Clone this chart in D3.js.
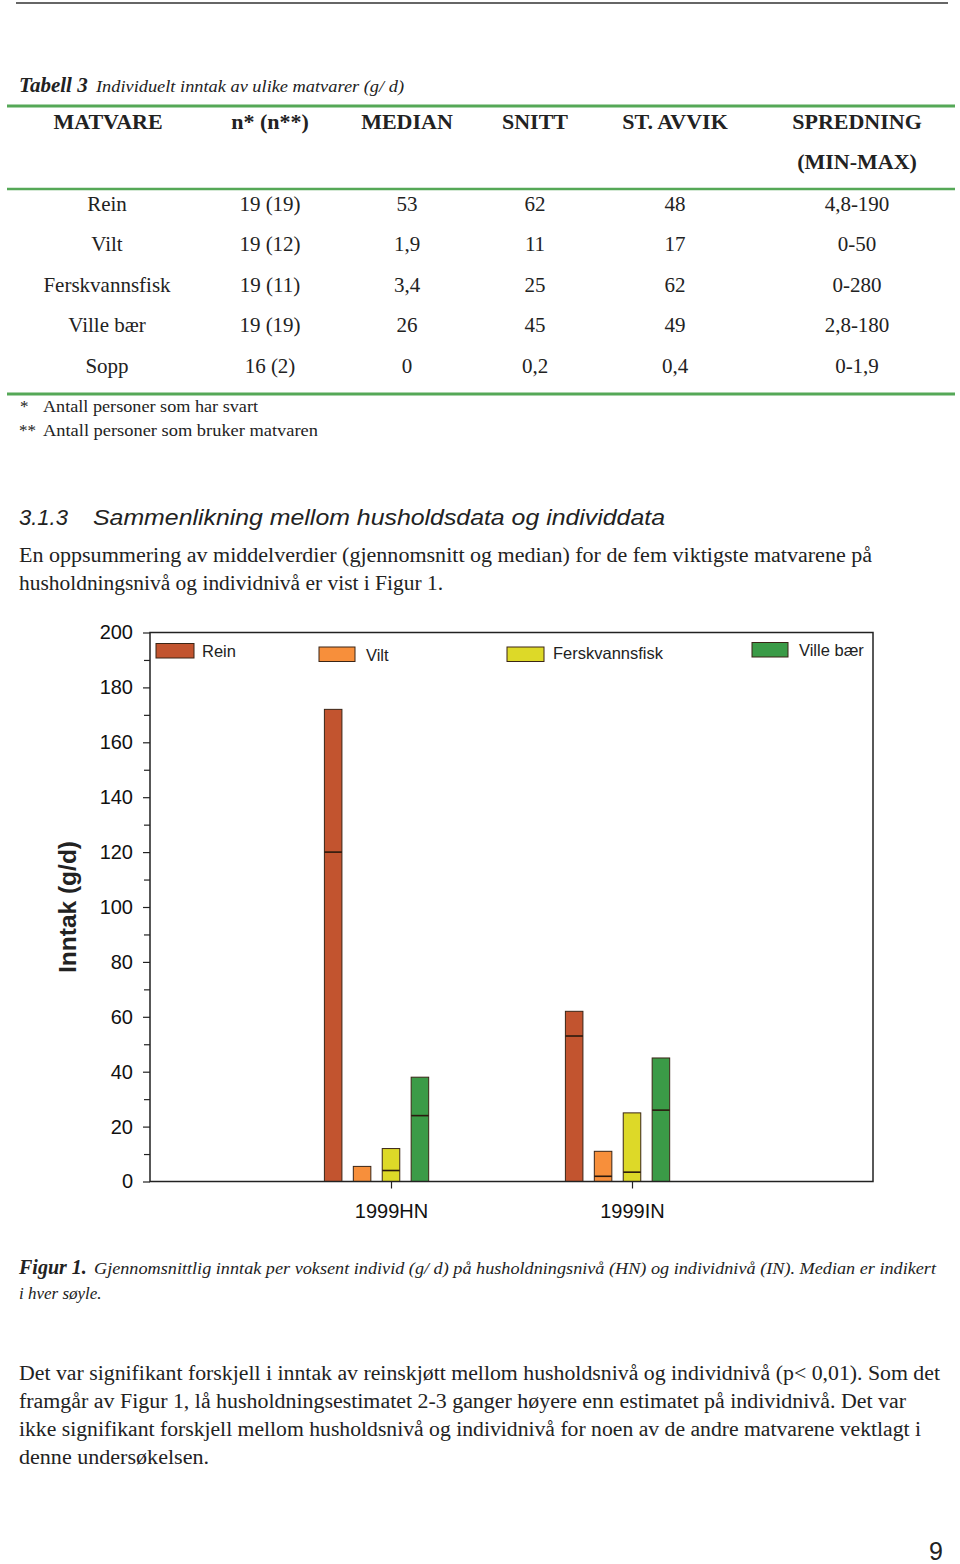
<!DOCTYPE html>
<html>
<head>
<meta charset="utf-8">
<script src="https://cdn.jsdelivr.net/npm/d3@7"></script>
<style>
  html, body { margin: 0; padding: 0; background: #fff; }
  svg { display: block; }
  .serif { font-family: "Liberation Serif", "Times New Roman", serif; fill: #222; }
  .sans { font-family: "Liberation Sans", Arial, sans-serif; fill: #222; }
</style>
</head>
<body>
<svg id="page" width="960" height="1564"></svg>
<script>
// ---------------- data ----------------
const tableHeaders = ["MATVARE", "n* (n**)", "MEDIAN", "SNITT", "ST. AVVIK", "SPREDNING"];
const tableRowLabels = ["Rein", "Vilt", "Ferskvannsfisk", "Ville bær", "Sopp"];
const tableN = ["19 (19)", "19 (12)", "19 (11)", "19 (19)", "16 (2)"];
const tableMedian = ["53", "1,9", "3,4", "26", "0"];
const tableSnitt = ["62", "11", "25", "45", "0,2"];
const tableAvvik = ["48", "17", "62", "49", "0,4"];
const tableSpredning = ["4,8-190", "0-50", "0-280", "2,8-180", "0-1,9"];

const categories = ["1999HN", "1999IN"];
const series = ["Rein", "Vilt", "Ferskvannsfisk", "Ville bær"];
const seriesSlots = ["Rein", "Vilt", "Ferskvannsfisk", "Ville bær", "Sopp"];
const meanHN = [172, 5.5, 12, 38];
const medianHN = [120, 0, 4, 24];
const meanIN = [62, 11, 25, 45];
const medianIN = [53, 1.9, 3.4, 26];
const yTicks = [0, 20, 40, 60, 80, 100, 120, 140, 160, 180, 200];
const yMinorTicks = [10, 30, 50, 70, 90, 110, 130, 150, 170, 190];
const colors = ["#c2542f", "#f78f3b", "#ddd928", "#3b9b47"];

// ---------------- page ----------------
const svg = d3.select("#page");

// top rule
svg.append("line").attr("x1", 16).attr("x2", 948).attr("y1", 3).attr("y2", 3)
  .attr("stroke", "#666").attr("stroke-width", 2);

// table title
svg.append("text").attr("class", "serif").attr("x", 19).attr("y", 92)
  .attr("font-weight", "bold").attr("font-style", "italic").attr("font-size", 21).text("Tabell 3");
svg.append("text").attr("class", "serif").attr("x", 96).attr("y", 92)
  .attr("font-style", "italic").attr("font-size", 17).attr("textLength", 308).attr("lengthAdjust", "spacingAndGlyphs")
  .text("Individuelt inntak av ulike matvarer (g/ d)");

const green = "#55a857";
[[106, 3], [189, 2.5], [394, 3]].forEach(([y, w]) => {
  svg.append("line").attr("x1", 7).attr("x2", 955).attr("y1", y).attr("y2", y)
    .attr("stroke", green).attr("stroke-width", w);
});

const colX = [108, 270, 407, 535, 675, 857];
tableHeaders.forEach((h, i) => {
  svg.append("text").attr("class", "serif").attr("x", colX[i]).attr("y", 129)
    .attr("text-anchor", "middle").attr("font-weight", "bold").attr("font-size", 22).text(h);
});
svg.append("text").attr("class", "serif").attr("x", colX[5]).attr("y", 169)
  .attr("text-anchor", "middle").attr("font-weight", "bold").attr("font-size", 22).text("(MIN-MAX)");

const rowY = [211, 251, 292, 332, 373];
const cols = [tableRowLabels, tableN, tableMedian, tableSnitt, tableAvvik, tableSpredning];
cols.forEach((col, ci) => {
  col.forEach((v, ri) => {
    svg.append("text").attr("class", "serif").attr("x", ci === 0 ? 107 : colX[ci]).attr("y", rowY[ri])
      .attr("text-anchor", "middle").attr("font-size", 21).text(v);
  });
});

svg.append("text").attr("class", "serif").attr("x", 20).attr("y", 412).attr("font-size", 17).text("*");
svg.append("text").attr("class", "serif").attr("x", 43).attr("y", 412).attr("font-size", 17)
  .attr("textLength", 215).attr("lengthAdjust", "spacingAndGlyphs").text("Antall personer som har svart");
svg.append("text").attr("class", "serif").attr("x", 19).attr("y", 436).attr("font-size", 17).text("**");
svg.append("text").attr("class", "serif").attr("x", 43).attr("y", 436).attr("font-size", 17)
  .attr("textLength", 275).attr("lengthAdjust", "spacingAndGlyphs").text("Antall personer som bruker matvaren");

// section heading
svg.append("text").attr("class", "sans").attr("x", 19).attr("y", 525).attr("font-size", 22)
  .attr("font-style", "italic").text("3.1.3");
svg.append("text").attr("class", "sans").attr("x", 93).attr("y", 525).attr("font-size", 22)
  .attr("font-style", "italic").attr("textLength", 572).attr("lengthAdjust", "spacingAndGlyphs")
  .text("Sammenlikning mellom husholdsdata og individdata");

function para(x, y, txt, len, size) {
  const t = svg.append("text").attr("class", "serif").attr("x", x).attr("y", y)
    .attr("font-size", size || 20).text(txt);
  if (len) t.attr("textLength", len).attr("lengthAdjust", "spacingAndGlyphs");
  return t;
}
para(19, 562, "En oppsummering av middelverdier (gjennomsnitt og median) for de fem viktigste matvarene på", 853);
para(19, 590, "husholdningsnivå og individnivå er vist i Figur 1.", 424);

// ---------------- chart ----------------
const x0 = 150, x1 = 873, yTop = 632.5, yBot = 1181.5;
const y = d3.scaleLinear().domain([0, 200]).range([yBot, yTop]);
const x = d3.scaleLinear().domain([0, categories.length + 1]).range([x0, x1]);
const step = x(1) - x(0);
const sub = d3.scaleBand().domain(seriesSlots).range([-0.3 * step, 0.3 * step]).paddingInner(0.394).paddingOuter(0.197);

const chart = svg.append("g");

// bars
const groups = [
  { cat: categories[0], mean: meanHN, median: medianHN },
  { cat: categories[1], mean: meanIN, median: medianIN }
];
groups.forEach((g, gi) => {
  const cx = x(gi + 1);
  series.forEach((s, si) => {
    const bx = cx + sub(s);
    chart.append("rect")
      .attr("x", bx).attr("y", y(g.mean[si]))
      .attr("width", sub.bandwidth()).attr("height", y(0) - y(g.mean[si]))
      .attr("fill", colors[si]).attr("stroke", "#3a2516").attr("stroke-width", 1);
    if (g.median[si] > 0) {
      chart.append("line")
        .attr("x1", bx).attr("x2", bx + sub.bandwidth())
        .attr("y1", y(g.median[si])).attr("y2", y(g.median[si]))
        .attr("stroke", "#2a1a0e").attr("stroke-width", 1.6);
    }
  });
});

// frame
chart.append("rect").attr("x", x0).attr("y", yTop).attr("width", x1 - x0).attr("height", yBot - yTop)
  .attr("fill", "none").attr("stroke", "#222").attr("stroke-width", 1.5);

// y axis
const yAxis = chart.append("g").attr("transform", `translate(${x0},0)`)
  .call(d3.axisLeft(y).tickValues(yTicks).tickSize(7).tickPadding(10).tickFormat(d3.format("d")));
yAxis.select(".domain").remove();
yAxis.selectAll("line").attr("stroke", "#222").attr("stroke-width", 1.2);
yAxis.selectAll("text").attr("font-family", "Liberation Sans, Arial, sans-serif").attr("font-size", 20).attr("fill", "#111");

const yMinor = chart.append("g").attr("transform", `translate(${x0},0)`)
  .call(d3.axisLeft(y).tickValues(yMinorTicks).tickSize(6).tickFormat(""));
yMinor.select(".domain").remove();
yMinor.selectAll("line").attr("stroke", "#222").attr("stroke-width", 1.2);

// x axis
const xAxis = chart.append("g").attr("transform", `translate(0,${yBot})`)
  .call(d3.axisBottom(x).tickValues(categories.map((c, i) => i + 1)).tickSize(7).tickPadding(15)
    .tickFormat((d) => categories[d - 1]));
xAxis.select(".domain").remove();
xAxis.selectAll("line").attr("stroke", "#222").attr("stroke-width", 1.2);
xAxis.selectAll("text").attr("font-family", "Liberation Sans, Arial, sans-serif").attr("font-size", 20).attr("fill", "#111");

// y axis title
chart.append("text").attr("class", "sans")
  .attr("transform", `translate(76,${(yTop + yBot) / 2}) rotate(-90)`)
  .attr("text-anchor", "middle").attr("font-weight", "bold").attr("font-size", 24.5)
  .text("Inntak (g/d)");

// legend
const legendPos = [
  { sx: 156, sy: 643.5, sw: 38, tx: 202, ty: 657 },
  { sx: 319, sy: 647, sw: 36, tx: 366, ty: 660.5 },
  { sx: 507, sy: 647, sw: 37, tx: 553, ty: 658.5 },
  { sx: 752, sy: 642.5, sw: 36, tx: 799, ty: 655.5 }
];
series.forEach((s, i) => {
  const p = legendPos[i];
  chart.append("rect").attr("x", p.sx).attr("y", p.sy).attr("width", p.sw).attr("height", 14.5)
    .attr("fill", colors[i]).attr("stroke", "#3a2516").attr("stroke-width", 1);
  chart.append("text").attr("class", "sans").attr("x", p.tx).attr("y", p.ty)
    .attr("font-size", 16.5).attr("fill", "#111").text(s);
});

// ---------------- caption ----------------
svg.append("text").attr("class", "serif").attr("x", 19).attr("y", 1274)
  .attr("font-weight", "bold").attr("font-style", "italic").attr("font-size", 20).text("Figur 1.");
svg.append("text").attr("class", "serif").attr("x", 94).attr("y", 1274).attr("font-style", "italic")
  .attr("font-size", 17).attr("textLength", 842).attr("lengthAdjust", "spacingAndGlyphs")
  .text("Gjennomsnittlig inntak per voksent individ (g/ d) på husholdningsnivå (HN) og individnivå (IN). Median er indikert");
svg.append("text").attr("class", "serif").attr("x", 19).attr("y", 1299).attr("font-style", "italic")
  .attr("font-size", 17).text("i hver søyle.");

para(19, 1380, "Det var signifikant forskjell i inntak av reinskjøtt mellom husholdsnivå og individnivå (p< 0,01). Som det", 921);
para(19, 1408, "framgår av Figur 1, lå husholdningsestimatet 2-3 ganger høyere enn estimatet på individnivå. Det var", 887);
para(19, 1436, "ikke signifikant forskjell mellom husholdsnivå og individnivå for noen av de andre matvarene vektlagt i", 902);
para(19, 1464, "denne undersøkelsen.", 190);

svg.append("text").attr("class", "sans").attr("x", 943).attr("y", 1560).attr("text-anchor", "end")
  .attr("font-size", 25).attr("fill", "#111").text("9");
</script>
</body>
</html>
